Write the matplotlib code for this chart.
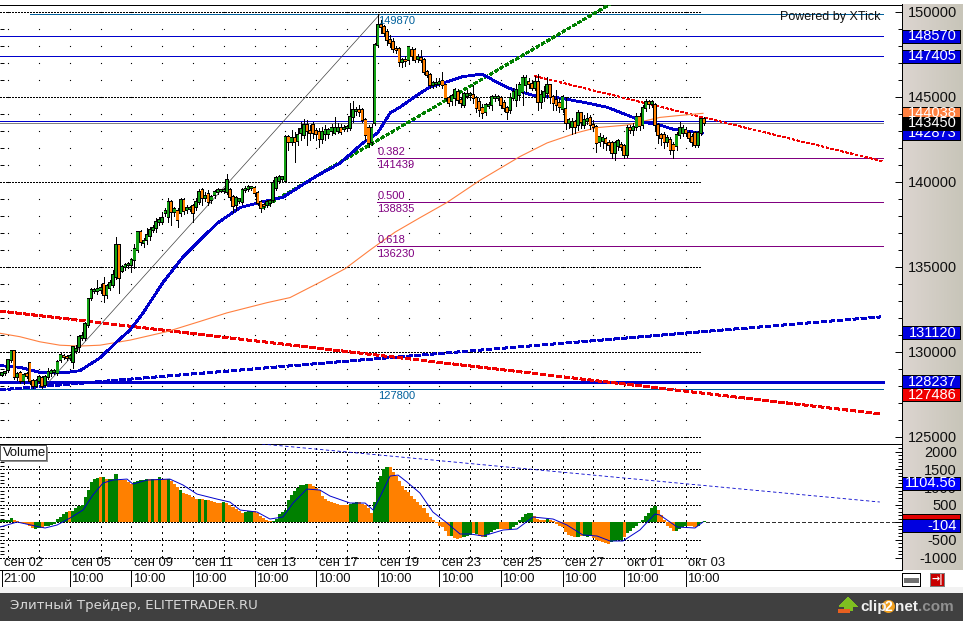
import numpy as np
import matplotlib
matplotlib.use("Agg")
import matplotlib.pyplot as plt
from matplotlib.colors import LinearSegmentedColormap
from matplotlib.patches import Rectangle, Polygon, Circle

plt.rcParams['font.family'] = ['Liberation Sans', 'DejaVu Sans']
plt.rcParams['lines.antialiased'] = False
plt.rcParams['patch.antialiased'] = False

W, H = 963, 621

# candles, in thousands of points
opens = [
    128.65, 128.77, 128.94, 129.53, 130.06, 128.53, 128.77, 128.30, 128.71, 129.36,
    128.30, 128.0, 128.30, 128.47, 128.06, 128.53, 128.77, 128.83, 128.77, 129.53,
    129.77, 129.71, 129.65, 129.41, 130.06, 130.3, 130.83, 130.83, 131.59, 133.18,
    133.59, 133.59, 133.65, 134.0, 133.35, 133.77, 133.94, 134.41, 136.29, 134.77,
    135.0, 135.12, 135.12, 135.41, 136.0, 137.06, 136.41, 136.59, 136.82, 137.18,
    137.29, 137.65, 137.65, 138.18, 137.94, 138.82, 138.24, 138.29, 138.18, 138.94,
    138.35, 138.41, 138.59, 138.53, 138.82, 139.53, 139.06, 139.29, 138.94, 139.24,
    139.41, 139.47, 139.47, 139.41, 139.53, 139.12, 138.65, 138.88, 138.82, 139.53,
    139.59, 139.65, 139.65, 139.35, 138.82, 138.65, 138.65, 138.76, 138.94, 139.65,
    140.06, 140.18, 140.06, 142.64, 142.35, 142.59, 142.41, 142.88, 142.76, 143.35,
    143.0, 143.35, 143.0, 142.94, 142.53, 142.82, 142.82, 143.0, 142.88, 143.0,
    143.17, 143.12, 143.17, 143.17, 143.82, 144.17, 144.23, 144.23, 143.64, 143.17,
    142.35, 143.47, 148.05, 149.23, 149.12, 148.82, 148.35, 148.23, 147.82, 147.82,
    147.05, 147.17, 147.17, 147.76, 147.76, 147.23, 147.29, 147.17, 146.47, 146.29,
    145.7, 145.76, 145.76, 145.94, 145.7, 144.94, 144.76, 144.94, 145.29, 144.82,
    144.53, 145.06, 145.11, 145.11, 144.94, 144.7, 144.35, 144.11, 144.47, 144.53,
    144.94, 144.94, 144.94, 144.64, 144.35, 144.23, 144.94, 144.82, 145.11, 145.29,
    145.7, 145.88, 145.76, 145.53, 145.88, 144.7, 145.0, 145.23, 145.7, 145.0,
    144.82, 144.64, 144.29, 144.29, 143.47, 143.23, 143.53, 143.35, 144.06, 143.35,
    143.58, 143.76, 143.35, 143.23, 142.35, 142.41, 142.53, 142.29, 142.29, 141.7,
    142.11, 142.17, 142.11, 141.59, 143.17, 143.06, 143.23, 143.82, 143.35, 144.35,
    144.7, 144.58, 144.53, 143.35, 142.76, 142.76, 142.35, 142.47, 142.17, 142.11,
    142.76, 142.88, 143.06, 142.88, 142.64, 142.88, 142.17, 142.88, 143.7,
]
closes = [
    128.77, 128.83, 129.53, 130.06, 128.53, 128.71, 128.30, 128.65, 128.59, 128.30,
    128.0, 128.30, 128.53, 128.0, 128.53, 128.83, 128.89, 128.89, 129.41, 129.83,
    129.71, 129.65, 129.77, 130.3, 130.18, 130.88, 130.94, 131.65, 133.12, 133.65,
    133.65, 133.71, 133.77, 133.35, 133.88, 134.06, 134.53, 136.29, 134.35, 135.0,
    135.12, 135.18, 135.41, 136.06, 137.06, 136.47, 136.53, 136.88, 137.18, 137.29,
    137.65, 137.76, 137.88, 138.29, 138.82, 138.24, 138.41, 137.76, 138.94, 138.29,
    138.47, 138.47, 138.18, 138.82, 139.41, 139.06, 139.18, 138.82, 139.12, 139.41,
    139.53, 139.53, 139.53, 140.12, 139.12, 138.59, 139.06, 139.0, 139.53, 139.59,
    139.71, 139.71, 139.35, 138.76, 138.47, 138.59, 138.82, 138.88, 139.94, 140.23,
    140.29, 140.29, 142.64, 142.35, 142.59, 142.35, 142.76, 143.12, 143.35, 143.0,
    142.88, 142.88, 142.82, 142.53, 142.94, 143.06, 143.06, 143.17, 143.17, 143.17,
    142.94, 143.17, 143.23, 143.82, 144.23, 144.23, 144.12, 143.64, 142.76, 142.29,
    143.17, 148.05, 149.23, 149.12, 148.76, 148.35, 148.17, 147.82, 147.76, 147.05,
    147.17, 147.11, 147.94, 147.41, 147.17, 147.35, 147.17, 146.47, 146.29, 145.7,
    145.82, 145.82, 145.88, 145.7, 144.94, 144.64, 145.06, 145.41, 144.82, 144.64,
    145.17, 145.17, 145.17, 144.94, 144.35, 144.23, 144.06, 144.53, 144.53, 145.0,
    145.0, 145.0, 144.53, 144.35, 144.11, 144.94, 145.29, 145.41, 145.7, 146.11,
    146.11, 145.76, 145.53, 145.88, 144.7, 145.11, 145.29, 145.7, 145.0, 144.64,
    144.53, 144.41, 145.0, 143.47, 143.64, 143.53, 143.23, 144.06, 143.53, 143.64,
    143.7, 143.35, 143.23, 142.29, 142.64, 142.59, 142.29, 142.17, 141.7, 142.29,
    142.41, 142.06, 141.59, 143.17, 143.06, 143.23, 143.82, 143.29, 144.35, 144.7,
    144.58, 144.7, 143.35, 142.76, 142.59, 142.35, 142.59, 141.88, 141.88, 142.76,
    143.17, 143.17, 142.88, 142.59, 142.35, 142.17, 142.88, 143.7, 143.45,
]
highs = [
    128.83, 128.89, 129.59, 130.12, 130.12, 128.83, 128.89, 128.77, 128.83, 129.41,
    128.41, 128.41, 128.65, 128.59, 128.65, 129.06, 129.0, 129.0, 129.53, 129.94,
    129.88, 129.83, 129.88, 130.36, 130.41, 131.0, 131.18, 131.77, 133.18, 133.77,
    133.77, 134.24, 133.94, 134.41, 134.0, 134.24, 134.82, 136.76, 136.35, 135.12,
    135.24, 135.29, 135.53, 136.35, 137.12, 137.18, 136.71, 137.29, 137.35, 137.47,
    137.88, 137.94, 138.24, 138.47, 139.06, 138.94, 138.53, 138.47, 139.06, 139.06,
    138.65, 138.59, 138.71, 139.06, 139.59, 139.65, 139.41, 139.53, 139.24, 139.53,
    139.65, 139.59, 139.65, 140.47, 139.65, 139.24, 139.18, 139.06, 139.65, 139.76,
    139.82, 139.76, 139.76, 139.47, 138.94, 138.76, 138.94, 139.0, 140.12, 140.35,
    140.41, 140.35, 142.76, 142.76, 143.06, 142.94, 143.17, 143.53, 143.7, 143.64,
    143.35, 143.53, 143.17, 143.17, 143.23, 143.35, 143.17, 143.41, 143.82, 143.47,
    143.41, 143.35, 143.35, 144.64, 144.76, 144.41, 144.53, 144.35, 143.76, 143.35,
    143.41, 148.17, 149.87, 149.52, 149.23, 149.0, 148.64, 148.47, 148.0, 147.94,
    147.29, 147.41, 148.0, 147.94, 147.88, 147.52, 147.76, 147.29, 146.58, 146.41,
    145.94, 146.11, 146.11, 146.47, 145.76, 145.06, 145.17, 145.53, 145.47, 145.0,
    145.29, 145.41, 145.29, 145.7, 145.06, 144.94, 144.58, 144.64, 144.7, 145.11,
    145.17, 145.11, 145.06, 144.82, 144.47, 145.23, 145.53, 145.76, 145.88, 146.29,
    146.29, 146.11, 146.0, 146.23, 146.35, 145.41, 145.64, 146.17, 145.76, 145.11,
    145.41, 144.94, 145.11, 145.0, 143.76, 143.76, 143.64, 144.23, 144.12, 143.94,
    144.06, 143.94, 143.64, 143.35, 142.88, 142.76, 142.64, 142.47, 142.41, 142.41,
    142.53, 142.35, 142.23, 143.35, 143.35, 143.47, 144.06, 144.06, 144.53, 144.88,
    144.82, 144.82, 144.64, 143.47, 142.88, 142.94, 142.76, 142.64, 142.35, 142.94,
    143.53, 143.35, 143.23, 143.06, 142.82, 143.0, 143.0, 143.76, 143.82,
]
lows = [
    128.59, 128.65, 128.83, 129.41, 128.41, 128.36, 128.18, 128.12, 128.47, 128.12,
    127.89, 127.94, 128.18, 127.89, 128.0, 128.41, 128.59, 128.71, 128.65, 129.41,
    129.59, 129.53, 129.53, 129.06, 129.94, 130.0, 130.71, 130.71, 131.47, 133.06,
    133.47, 133.41, 133.47, 132.94, 133.18, 133.65, 133.82, 134.3, 133.47, 134.71,
    134.82, 134.94, 134.71, 134.94, 135.88, 136.29, 136.18, 136.35, 136.59, 137.06,
    137.06, 137.47, 137.53, 138.0, 137.65, 137.47, 138.0, 137.35, 138.0, 138.12,
    138.18, 138.29, 137.65, 138.35, 138.71, 138.65, 138.88, 138.65, 138.76, 139.06,
    139.29, 139.41, 139.35, 139.29, 138.94, 138.24, 138.35, 138.76, 138.71, 139.41,
    139.47, 139.53, 139.18, 138.65, 138.24, 138.41, 138.53, 138.59, 138.82, 139.53,
    139.94, 140.06, 140.0, 141.88, 142.18, 141.17, 142.18, 142.47, 142.59, 142.18,
    142.47, 142.59, 142.47, 142.06, 142.29, 142.47, 142.59, 142.76, 142.82, 142.88,
    142.82, 143.0, 143.06, 143.06, 143.53, 143.94, 143.88, 143.53, 142.47, 142.06,
    142.18, 143.35, 147.94, 148.76, 148.58, 148.05, 147.94, 147.64, 147.58, 146.82,
    146.76, 146.82, 146.94, 147.17, 147.05, 147.05, 147.05, 146.35, 146.17, 145.53,
    145.53, 145.58, 145.64, 145.53, 144.82, 144.47, 144.53, 144.53, 144.64, 144.41,
    144.41, 144.94, 144.82, 144.64, 144.11, 143.88, 143.76, 143.94, 144.35, 144.23,
    144.76, 144.82, 144.35, 144.17, 143.7, 144.06, 144.82, 144.47, 144.82, 144.53,
    145.29, 145.53, 145.41, 145.41, 144.23, 144.35, 144.76, 144.94, 144.64, 144.23,
    144.23, 144.11, 144.11, 143.12, 143.17, 142.82, 142.88, 143.06, 143.17, 143.17,
    143.41, 143.12, 143.06, 141.76, 142.11, 142.0, 141.88, 141.88, 141.41, 141.29,
    141.88, 141.88, 141.41, 141.47, 142.88, 142.76, 143.06, 143.06, 143.17, 144.17,
    144.35, 144.41, 143.06, 142.29, 142.17, 142.0, 142.11, 141.64, 141.41, 141.88,
    142.59, 142.7, 142.7, 142.41, 142.11, 142.06, 142.06, 142.76, 143.35,
]

# moving averages on the price panel: bar index, price in thousands
ma_blue_idx = [-0.6, 5.8, 12.3, 21, 25.3, 31.8, 37.3, 41.6, 45.8, 52.3, 58.8, 64.3, 70.1, 77.3, 83.8, 91.2, 99,
               102.6, 109.7, 117.2, 122, 126, 129.2, 134.7, 139, 144.5, 149.7, 155.8, 159.4, 164.9, 172.4,
               178.9, 188.6, 196.4, 204.9, 208.8, 213.6, 217.9, 227.3]
ma_blue = [129.2, 129.1, 128.8, 128.8, 128.9, 129.65, 130.6, 131.3, 132.3, 134.1, 135.6, 136.6, 137.6, 138.5, 138.8,
           139.1, 140, 140.4, 141.1, 142.3, 142.9, 144.06, 144.4, 145.1, 145.6, 145.9, 146.2, 146.35, 146, 145.5,
           145.1, 145, 144.7, 144.4, 143.8, 143.5, 143.35, 143.1, 142.87]
ma_orange_idx = [-0.6, 5.8, 12.3, 18.8, 25.3, 31.8, 38.3, 41.6, 53.6, 64.3, 73, 86, 93.5, 103.2, 111.4, 119.5, 127.6,
                 135.7, 144.5, 155.2, 168.2, 177, 186.7, 193.2, 202.9, 213.6, 219.2, 227.6]
ma_orange = [131.1, 130.9, 130.6, 130.4, 130.35, 130.4, 130.6, 130.7, 131.2, 131.8, 132.3, 132.9, 133.2, 134.1, 134.9,
             136, 137.05, 137.9, 138.8, 140.1, 141.5, 142.3, 142.9, 143.2, 143.35, 143.8, 143.9, 144.04]

# volume histogram
vol_values = [
    56, 56, 56, 112, 56, 28, -28, -28, -56, -112,
    -168, -196, -168, -168, -112, -112, -84, -56, 84, 140,
    224, 280, 308, 308, 392, 448, 504, 728, 924, 1148,
    1232, 1260, 1288, 1288, 1232, 1232, 1232, 1372, 1204, 1204,
    1204, 1148, 1092, 1148, 1176, 1204, 1204, 1232, 1232, 1232,
    1232, 1288, 1232, 1232, 1232, 1176, 1092, 1008, 924, 840,
    812, 784, 728, 672, 672, 672, 644, 644, 616, 588,
    560, 560, 588, 560, 504, 420, 364, 308, 252, 280,
    308, 308, 308, 252, 168, 112, 56, 28, 28, 84,
    224, 280, 336, 644, 784, 896, 980, 1064, 1064, 1092,
    1092, 1036, 980, 924, 756, 672, 616, 588, 560, 532,
    504, 504, 504, 532, 560, 588, 588, 532, 476, 392,
    252, 588, 1148, 1316, 1512, 1568, 1568, 1428, 1316, 1176,
    1036, 924, 868, 756, 672, 588, 476, 392, 252, 140,
    56, -28, -112, -140, -252, -392, -392, -448, -476, -448,
    -420, -392, -364, -308, -336, -392, -420, -420, -336, -280,
    -224, -196, -196, -196, -196, -196, -140, -84, 56, 140,
    224, 252, 252, 168, 84, 56, 56, 84, 56, 28,
    -56, -112, -140, -280, -364, -392, -420, -420, -392, -392,
    -420, -392, -448, -504, -532, -560, -588, -616, -560, -532,
    -504, -504, -420, -308, -252, -168, -112, -28, 56, 168,
    252, 392, 448, 336, 196, 56, -112, -168, -252, -252,
    -196, -140, -112, -112, -112, -140, -112, -28, 28,
]
# g = green bar, o = orange bar, ten per row
vol_colors = list(
    "ggggoooooo"
    "oggogggggg"
    "ggoggggggg"
    "ggogogggoo"
    "ooogggggog"
    "ogoogooogo"
    "oooogogooo"
    "oogoooooog"
    "ggoooooogg"
    "gggggggggg"
    "oooooooooo"
    "ooogggoooo"
    "ogggggoooo"
    "oooooooooo"
    "oooooogooo"
    "gggogooggg"
    "ggoooggggg"
    "gggoooogoo"
    "ooooooogog"
    "ggoooooogg"
    "ggoggggggg"
    "gggoooooog"
    "gggoooggg"
)
# volume average: bar index, value
vol_ma_idx = [-0.6, 4.9, 12.3, 14, 17.9, 22.1, 26.3, 29.5, 32.8, 36, 40.6, 42.5, 47.1, 54.5, 58.8, 63.3, 69.8, 74,
              77.3, 82.8, 87, 91.2, 94.5, 99, 103.2, 106.5, 113, 117.9, 120.5, 122.7, 126, 128.6, 131.5, 135.7,
              139.9, 144.5, 148.7, 152, 156.2, 162.7, 167.2, 172.4, 178.9, 183.4, 188.6, 193.2, 197.4, 201.6,
              207.1, 212, 213.6, 219.2, 225, 227.6]
vol_ma = [-133, 8, -133, -161, -76, 122, 348, 772, 1112, 1197, 1225, 1084, 1197, 1225, 1055, 800, 658, 574,
          348, 291, 93, 150, 546, 942, 914, 744, 546, 546, 348, 716, 1310, 1338, 1140, 828,
          291, -20, -331, -331, -388, -218, -190, 150, 93, -76, -359, -388, -529, -529,
          -218, 235, 207, -133, -161, 8]

# axis labels
date_ticks = [0, 22, 42, 62, 82, 102, 122, 142, 162, 182, 202, 222]
date_labels = ["сен 02", "сен 05", "сен 09", "сен 11", "сен 13", "сен 17", "сен 19", "сен 23", "сен 25", "сен 27",
               "окт 01", "окт 03"]
time_labels = ["21:00"] + ["10:00"] * 11
price_ticks = [125000, 130000, 135000, 140000, 145000, 150000]
vol_ticks = [-1000, -500, 0, 500, 1000, 1500, 2000]
grid_idx = list(range(2, 223, 10))

# horizontal levels
blue_levels = [148570, 147405, 143570]
fibo_levels = [141439, 138835, 136230]
fibo_texts = [("0.382", 141.76), ("141439", 141.0), ("0.500", 139.18), ("138835", 138.41), ("0.618", 136.59),
              ("136230", 135.76)]

BLUE = "#0000cc"
TEAL = "#00609c"
PURPLE = "#800080"
GREEN = "#008000"
ORANGE = "#ff8000"
CANDLE_GREEN = "#12a012"
MA_ORANGE = "#ff8040"
THIN = 0.5
X_LIM = ((0 - 2) / 3.08, (902 - 2) / 3.08)


def px_axes(left, top, right, bottom, **kw):
    return fig.add_axes([left / W, 1 - bottom / H, (right - left) / W, (bottom - top) / H], **kw)


fig = plt.figure(figsize=(W / 100, H / 100), dpi=100, facecolor="white")

# grey gradient behind the scale
bg = px_axes(902, 4, 963, 570, zorder=0)
cmap = LinearSegmentedColormap.from_list("scale", ["#dcd5d0", "#c8c5b9"])
bg.imshow(np.linspace(0, 1, 61).reshape(1, -1), aspect="auto", cmap=cmap)
bg.axis("off")

ax = px_axes(0, 4.5, 902, 444, zorder=2)
ax.patch.set_alpha(0)
vx = px_axes(0, 444, 902, 570, zorder=2)
vx.patch.set_alpha(0)
tx = px_axes(0, 570, 902, 587, zorder=2)
tx.patch.set_alpha(0)

idx = np.arange(len(closes))
o = np.array(opens) * 1000
c = np.array(closes) * 1000
hi = np.array(highs) * 1000
lo = np.array(lows) * 1000

# ---- price panel
ax.set_xlim(*X_LIM)
ax.set_ylim(124588, 150441)
for p in price_ticks:
    ax.plot([X_LIM[0], grid_idx[-1] + 5], [p, p], color="black", lw=THIN, ls=(0, (2, 2.5)), zorder=1)
levels = np.arange(125000, 150001, 1000)
for g in grid_idx:
    ax.plot([g] * len(levels), levels, ls="", marker="s", ms=0.8, mew=0, color="black", zorder=1)

ax.plot([9.1, 286], [149870, 149870], color=TEAL, lw=THIN, zorder=2)
for lv in blue_levels:
    ax.plot([X_LIM[0], 286], [lv, lv], color=BLUE, lw=THIN, zorder=2)
ax.plot([X_LIM[0], 286], [143450, 143450], color="#808080", lw=THIN, zorder=2)
for lv in fibo_levels:
    ax.plot([121.8, 286], [lv, lv], color=PURPLE, lw=THIN, zorder=2)
ax.plot([X_LIM[0], 286], [128237, 128237], color=BLUE, lw=1.8, zorder=2)
ax.plot([X_LIM[0], 286], [127800, 127800], color=TEAL, lw=THIN, zorder=2)

ax.plot([14, 122.7], [128000, 149870], color="#404040", lw=0.5, antialiased=True, zorder=2)
ax.plot([X_LIM[0], 285.1], [127770, 132060], color=BLUE, lw=1.3, ls=(0, (2.8, 1.6)), zorder=3)
ax.plot([X_LIM[0], 285.1], [132410, 126360], color="#f00000", lw=1.3, ls=(0, (2.8, 1.6)), zorder=3)
ax.plot([84.4, 197.4], [138470, 150460], color=GREEN, lw=1.3, ls=(0, (2.2, 1.6)), zorder=3)
ax.plot([173, 285.7], [146230, 141230], color="#f00000", lw=THIN, ls=(0, (3, 3)), zorder=3)

ax.plot(ma_orange_idx, np.array(ma_orange) * 1000, color=MA_ORANGE, lw=0.8, antialiased=True, zorder=3)
ax.plot(ma_blue_idx, np.array(ma_blue) * 1000, color=BLUE, lw=1.3, zorder=3)

# candles: wick, black body, coloured core
ax.vlines(idx, lo, hi, color="black", lw=THIN, zorder=4)
candle_colors = [CANDLE_GREEN if b >= a else ORANGE for a, b in zip(o, c)]
ax.bar(idx, np.abs(c - o) + 110, bottom=np.minimum(o, c) - 55, width=1.1, color="black", zorder=5)
ax.bar(idx, np.abs(c - o), bottom=np.minimum(o, c), width=0.7, color=candle_colors, zorder=6)

ax.text(122.2, 149470, "149870", color=TEAL, fontsize=8, va="center", zorder=7)
ax.text(122.2, 127420, "127800", color=TEAL, fontsize=8, va="center", zorder=7)
for s, p in fibo_texts:
    ax.text(121.8, p * 1000, s, color=PURPLE, fontsize=8, va="center", zorder=7)

# ---- volume panel
vx.set_xlim(*X_LIM)
vx.set_ylim(-1351, 2218)
vx.bar(np.arange(len(vol_values)), vol_values, width=1.0, color=[GREEN if k == "g" else ORANGE for k in vol_colors],
       zorder=2)
for v in vol_ticks:
    vx.plot([X_LIM[0], grid_idx[-1] + 5], [v, v], color="black", lw=THIN, ls=(0, (2, 2.5)), zorder=1)
for g in grid_idx:
    vx.plot([g, g], [-983, 2218], color="black", lw=THIN, ls=(0, (2, 6)), zorder=1)
vx.plot(vol_ma_idx, vol_ma, color=BLUE, lw=0.7, antialiased=True, zorder=3)
vx.plot([84.4, 285], [2218, 575], color=BLUE, lw=0.6, antialiased=True, ls=(0, (4, 3)), zorder=3)
vx.plot([228.5, 291.6], [0, 0], color="#303030", lw=THIN, ls=(0, (5, 4)), zorder=1)

for pos, s in zip(date_ticks, date_labels):
    vx.text(pos + 0.8, 0.055, s, transform=vx.get_xaxis_transform(), fontsize=9.4, va="center", color="#101010")

# ---- scale ticks and labels
ax.yaxis.tick_right()
ax.set_yticks(price_ticks)
ax.set_yticklabels([str(p) for p in price_ticks])
ax.set_yticks(levels, minor=True)
ax.tick_params(axis="y", which="major", direction="in", length=5, width=0.7, pad=39.5, right=True, left=False,
               labelsize=10.5, labelcolor="#101010")
ax.tick_params(axis="y", which="minor", direction="in", length=3, width=0.7, left=True, right=True)
for t in ax.get_yticklabels():
    t.set_ha("right")
ax.set_xticks([])

vx.yaxis.tick_right()
vx.set_yticks(vol_ticks)
vx.set_yticklabels([str(v) for v in vol_ticks])
vx.set_yticks(np.arange(-1000, 2101, 100), minor=True)
vx.tick_params(axis="y", which="major", direction="in", length=5, width=0.7, pad=39.5, right=True, left=False,
               labelsize=10.5, labelcolor="#101010")
vx.tick_params(axis="y", which="minor", direction="in", length=3, width=0.7, left=True, right=True)
for t in vx.get_yticklabels():
    t.set_ha("right")
vx.set_xticks([])

for a in (ax, vx):
    a.spines["left"].set_visible(False)
    a.spines["right"].set_linewidth(0.5)
    a.spines["top"].set_linewidth(0.5)
    a.spines["bottom"].set_linewidth(0.5)
vx.spines["top"].set_visible(False)

tx.set_xlim(*X_LIM)
tx.set_ylim(0, 1)
tx.set_yticks([])
tx.set_xticks(date_ticks)
tx.set_xticklabels([])
tx.tick_params(axis="x", direction="in", top=True, bottom=False, length=12.5, width=0.7)
for s in ("left", "right", "bottom", "top"):
    tx.spines[s].set_visible(False)
for pos, s in zip(date_ticks, time_labels):
    tx.text(pos + 0.45, 0.48, s, fontsize=9.4, va="center", color="#101010")


# ---- value boxes on the scale
def value_box(a, value, height, text, face, tcolor="white", z=10):
    a.add_patch(Rectangle((1.0, value - height / 2), 58 / 902, height, transform=a.get_yaxis_transform(),
                          facecolor=face, edgecolor="black", lw=0.6, clip_on=False, zorder=z))
    a.text(1 + 55 / 902, value, text, transform=a.get_yaxis_transform(), color=tcolor, fontsize=10.5, ha="right",
           va="center", clip_on=False, zorder=z + 0.1)


box_h = 13 * 58.82
value_box(ax, 148570, box_h, "148570", "#0000e0")
value_box(ax, 147405, box_h, "147405", "#0000e0")
value_box(ax, 144038, box_h, "144038", MA_ORANGE, z=10)
value_box(ax, 142873, box_h, "142873", "#0000e0", z=10)
value_box(ax, 143450, box_h, "143450", "black", z=11)
value_box(ax, 131120, box_h, "131120", "#0000e0")
value_box(ax, 127486, box_h, "127486", "#f00000", z=10)
value_box(ax, 128237, box_h, "128237", "#0000e0", z=11)
vbox_h = 13 / 0.0353
value_box(vx, 1104.56, vbox_h, "1104.56", "#0000ff")
value_box(vx, 37, vbox_h, "", "#e00000", z=10)
value_box(vx, -104, vbox_h, "-104", "#0000e0", z=11)

# ---- overlay in pixels: captions, footer, small icons
ov = fig.add_axes([0, 0, 1, 1], zorder=5)
ov.set_xlim(0, W)
ov.set_ylim(H, 0)
ov.axis("off")

ov.text(880, 17, "Powered by XTick", fontsize=9, ha="right", va="center", color="#101010")
ov.add_patch(Rectangle((1, 447), 47, 15, facecolor="#909090", edgecolor="none"))
ov.add_patch(Rectangle((0, 445), 45.5, 15, facecolor="white", edgecolor="#606060", lw=0.5))
ov.text(3, 452.5, "Volume", fontsize=9.4, va="center", color="#101010")

ov.add_patch(Rectangle((0, 587), W, 6, facecolor="#f2f2f2", edgecolor="none"))
ov.add_patch(Rectangle((0, 593), W, 28, facecolor="#404040", edgecolor="none"))
ov.text(10, 606, "Элитный Трейдер, ELITETRADER.RU", fontsize=9.6, va="center", color="#d8d8d8",
        family=["DejaVu Sans"])

ov.add_patch(Rectangle((902, 573), 18, 13, facecolor="white", edgecolor="black", lw=0.6))
ov.plot([906, 916], [579.5, 579.5], color="#707070", lw=2.5)
ov.add_patch(Rectangle((930, 573), 14, 13, facecolor="#c80000", edgecolor="#808080", lw=0.5))
ov.text(937, 579.5, "→|", color="white", fontsize=7, fontweight="bold", ha="center", va="center",
        family=["DejaVu Sans"])

ov.add_patch(Polygon([(848, 597), (858, 607), (853, 607), (853, 611), (844, 611), (844, 607), (839, 607)],
                     facecolor="#7fbf20", edgecolor="none"))
ov.add_patch(Rectangle((838, 609), 12, 4, facecolor="#e86020", edgecolor="none"))
ov.text(860, 607, "clip", color="#f0f0f0", fontsize=11, fontweight="bold", va="center")
ov.add_patch(Circle((888.5, 606.5), 6.5, facecolor="#f0a020", edgecolor="none", antialiased=True))
ov.text(888.5, 607, "2", color="white", fontsize=10, fontweight="bold", ha="center", va="center")
ov.text(895.5, 607, "net", color="#f0f0f0", fontsize=11, fontweight="bold", va="center")
ov.text(918, 607, ".com", color="#909090", fontsize=11, fontweight="bold", va="center")

fig.savefig("out.png", dpi=100)
